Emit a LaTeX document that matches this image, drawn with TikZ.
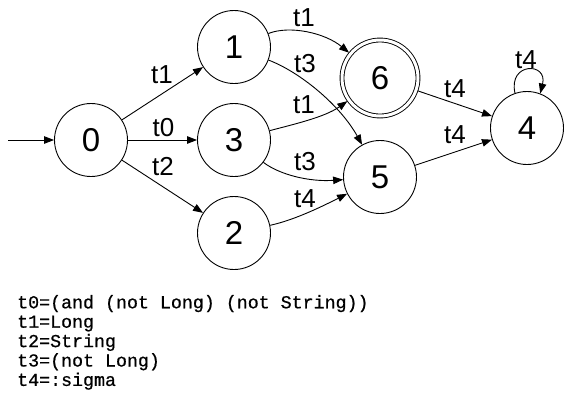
\documentclass[tikz,border=0pt]{standalone}
\usepackage{fontspec}
\setmainfont{Liberation Sans}
\setmonofont{Liberation Mono}[FakeBold=0.7]
\usetikzlibrary{arrows.meta}
\begin{document}
\begin{tikzpicture}[x=1pt,y=1pt,
  state/.style={draw,circle,line width=0.9pt,minimum size=73pt,inner sep=0pt,font=\fontsize{33}{33}\selectfont},
  accept/.style={state,minimum size=76pt,double,double distance=3pt,outer sep=2pt},
  edge/.style={line width=0.9pt,-{Triangle[length=10pt,width=7.5pt]}},
  elabel/.style={inner sep=0pt,font=\fontsize{26}{26}\selectfont},
  code/.style={anchor=base west,inner sep=0pt,font=\ttfamily\fontsize{18.3}{19.4}\selectfont}]
\useasboundingbox (0,0) rectangle (568,-400);
\node[state] (n0) at (91,-140) {0};
\node[state] (n1) at (234,-47) {1};
\node[state] (n3) at (234,-140) {3};
\node[state] (n2) at (234,-233) {2};
\node[accept] (n6) at (380,-78) {6};
\node[state] (n5) at (380,-177) {5};
\node[state] (n4) at (527,-128) {4};
\coordinate (init) at (8,-140);
\draw[edge] (init) -- (n0);
\draw[edge] (n0) -- (n1) node[elabel] (l01) at (162,-75) {t1};
\draw[edge] (n0) -- (n3) node[elabel] (l03) at (163.5,-128) {t0};
\draw[edge] (n0) -- (n2) node[elabel] (l02) at (163,-166.5) {t2};
\draw[edge] (n1) .. controls (290,-25) and (325,-33) .. (n6) node[elabel] (l16) at (304,-17.5) {t1};
\draw[edge] (n1) .. controls (300,-72) and (340,-105) .. (n5) node[elabel] (l15) at (305,-64) {t3};
\draw[edge] (n3) .. controls (295,-124) and (325,-117) .. (n6) node[elabel] (l36) at (304,-105) {t1};
\draw[edge] (n3) .. controls (280,-175) and (310,-182) .. (n5) node[elabel] (l35) at (305,-162) {t3};
\draw[edge] (n2) .. controls (295,-220) and (325,-205) .. (n5) node[elabel] (l25) at (305,-198.5) {t4};
\draw[edge] (n6) -- (n4) node[elabel] (l64) at (455,-88.5) {t4};
\draw[edge] (n5) -- (n4) node[elabel] (l54) at (455,-135) {t4};
\draw[edge] (n4.109) .. controls (508,-62) and (548,-62) .. (n4.69) node[elabel] (l44) at (526,-60) {t4};
\node[code] (c0) at (17,-308.3) {t0=(and (not Long) (not String))};
\node[code] (c1) at (17,-327.7) {t1=Long};
\node[code] (c2) at (17,-347.1) {t2=String};
\node[code] (c3) at (17,-366.5) {t3=(not Long)};
\node[code] (c4) at (17,-385.9) {t4=:sigma};
\end{tikzpicture}
\end{document}
